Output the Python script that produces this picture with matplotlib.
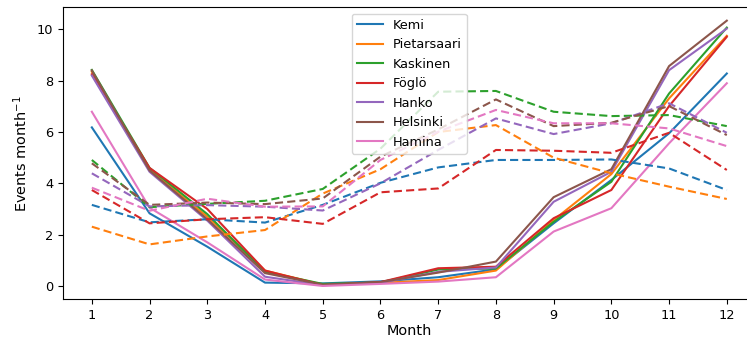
import matplotlib
matplotlib.use("Agg")
import matplotlib.pyplot as plt

months = list(range(1, 13))
stations = ["Kemi", "Pietarsaari", "Kaskinen", "Föglö", "Hanko", "Helsinki", "Hamina"]
colors = ["#1f77b4", "#ff7f0e", "#2ca02c", "#d62728", "#9467bd", "#8c564b", "#e377c2"]

# solid lines
kemi_solid = [6.18, 2.83, 1.53, 0.13, 0.10, 0.18, 0.34, 0.65, 2.44, 4.13, 5.95, 8.28]
pietarsaari_solid = [8.35, 4.52, 2.70, 0.60, 0.05, 0.12, 0.23, 0.60, 2.57, 4.36, 7.31, 9.75]
kaskinen_solid = [8.42, 4.60, 2.80, 0.55, 0.08, 0.14, 0.64, 0.68, 2.50, 4.06, 7.50, 10.07]
foglo_solid = [8.25, 4.60, 3.00, 0.60, 0.03, 0.15, 0.69, 0.75, 2.64, 3.74, 7.01, 9.71]
hanko_solid = [8.20, 4.45, 2.55, 0.36, 0.03, 0.12, 0.55, 0.72, 3.28, 4.45, 8.41, 10.03]
helsinki_solid = [8.40, 4.50, 2.60, 0.50, 0.05, 0.15, 0.52, 0.95, 3.46, 4.55, 8.57, 10.34]
hamina_solid = [6.79, 3.05, 1.70, 0.25, 0.00, 0.08, 0.17, 0.34, 2.12, 3.03, 5.56, 7.90]

# dashed lines
kemi_dashed = [3.16, 2.48, 2.60, 2.47, 3.16, 4.02, 4.62, 4.91, 4.91, 4.93, 4.58, 3.74]
pietarsaari_dashed = [2.31, 1.62, 1.93, 2.18, 3.60, 4.55, 6.00, 6.27, 5.00, 4.39, 3.87, 3.39]
kaskinen_dashed = [4.91, 3.07, 3.20, 3.32, 3.78, 5.35, 7.57, 7.60, 6.79, 6.62, 6.66, 6.23]
foglo_dashed = [3.74, 2.44, 2.60, 2.68, 2.42, 3.65, 3.80, 5.30, 5.27, 5.19, 5.97, 4.52]
hanko_dashed = [4.39, 3.10, 3.15, 3.09, 2.94, 4.00, 5.30, 6.53, 5.92, 6.34, 7.12, 5.97]
helsinki_dashed = [4.78, 3.16, 3.25, 3.19, 3.41, 5.04, 6.10, 7.27, 6.23, 6.36, 7.01, 5.88]
hamina_dashed = [3.83, 2.93, 3.40, 3.09, 3.10, 4.91, 6.01, 6.86, 6.34, 6.34, 6.14, 5.45]

solid = [kemi_solid, pietarsaari_solid, kaskinen_solid, foglo_solid,
         hanko_solid, helsinki_solid, hamina_solid]
dashed = [kemi_dashed, pietarsaari_dashed, kaskinen_dashed, foglo_dashed,
          hanko_dashed, helsinki_dashed, hamina_dashed]

fs = 9.3
plt.rcParams["font.size"] = fs

fig = plt.figure(figsize=(7.47, 3.40), dpi=100)
ax = fig.add_axes([0.0843, 0.1197, 0.9273, 0.8588])

lw = 1.5
for name, c, s in zip(stations, colors, solid):
    ax.plot(months, s, color=c, lw=lw, label=name)
for c, d in zip(colors, dashed):
    ax.plot(months, d, color=c, lw=lw, ls=(0, (3.9, 2.0)))

ax.set_xlim(0.5, 12.5)
ax.set_ylim(-0.52, 10.86)
ax.set_xticks(months)
ax.set_yticks([0, 2, 4, 6, 8, 10])
ax.tick_params(labelsize=fs)
ax.set_xlabel("Month", fontsize=fs * 1.12, labelpad=1.5)
ax.set_ylabel("Events month$^{-1}$", fontsize=fs * 1.12, labelpad=5)
ax.legend(loc="upper center", fontsize=fs)

fig.savefig("out.png", dpi=100)
